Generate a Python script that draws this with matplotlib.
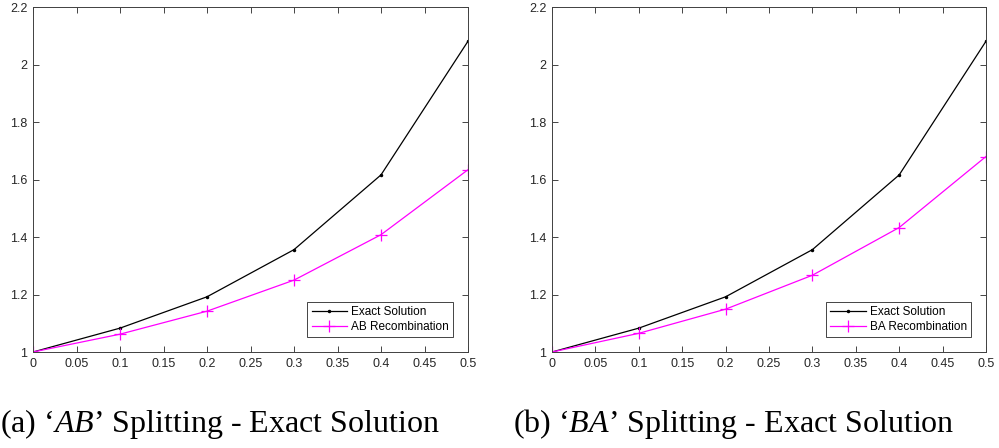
import matplotlib
matplotlib.use("Agg")
import matplotlib.pyplot as plt
import numpy as np

x = [0, 0.1, 0.2, 0.3, 0.4, 0.5]
exact = [1.0, 1.083, 1.192, 1.356, 1.616, 2.081]
ab = [1.0, 1.062, 1.142, 1.250, 1.408, 1.634]
ba = [1.0, 1.065, 1.149, 1.267, 1.433, 1.680]
xticks = [0, 0.05, 0.1, 0.15, 0.2, 0.25, 0.3, 0.35, 0.4, 0.45, 0.5]
xticklabels = ["0", "0.05", "0.1", "0.15", "0.2", "0.25", "0.3", "0.35", "0.4", "0.45", "0.5"]
yticks = [1, 1.2, 1.4, 1.6, 1.8, 2, 2.2]
yticklabels = ["1", "1.2", "1.4", "1.6", "1.8", "2", "2.2"]

panels = [
    (ab, "AB Recombination", r"(a) ‘$\mathit{AB}$’ Splitting - Exact Solution"),
    (ba, "BA Recombination", r"(b) ‘$\mathit{BA}$’ Splitting - Exact Solution"),
]

plt.rcParams['mathtext.fontset'] = 'custom'
plt.rcParams['mathtext.it'] = 'Liberation Serif:italic'
plt.rcParams['mathtext.rm'] = 'Liberation Serif'

fig = plt.figure(figsize=(9.99, 4.48), dpi=100)
W, H = 999, 448
lefts = [33, 552]
rights = [468, 986]
top, bottom = 7, 352
caption_x = [0, 513]

for i, (series, lab, cap) in enumerate(panels):
    aw = rights[i] - lefts[i]
    ah = bottom - top
    ax = fig.add_axes([lefts[i] / W, 1 - bottom / H, aw / W, ah / H])
    ax.plot(x, exact, color='black', lw=0.9, marker='.', ms=3, label='Exact Solution')
    ax.plot(x, series, color='#ff00ff', lw=0.9, marker='+', ms=8, mew=0.9, label=lab)
    ax.set_xlim(0, 0.5)
    ax.set_ylim(1, 2.2)
    ax.set_xticks(xticks)
    ax.set_xticklabels(xticklabels)
    ax.set_yticks(yticks)
    ax.set_yticklabels(yticklabels)
    ax.tick_params(direction='in', top=True, right=True, length=4, width=0.6,
                   labelsize=9, colors='#262626', pad=4)
    for lbl in ax.get_xticklabels() + ax.get_yticklabels():
        lbl.set_fontfamily('Liberation Sans')
    for s in ax.spines.values():
        s.set_linewidth(0.7)
        s.set_color('#404040')
    leg = ax.legend(loc='lower right', prop={'family': 'Liberation Sans', 'size': 8.5},
                    frameon=True, fancybox=False, edgecolor='#262626', framealpha=1,
                    borderpad=0.35, handlelength=3.0, handletextpad=0.35, labelspacing=0.25,
                    borderaxespad=0,
                    bbox_to_anchor=(1 - 15 / aw, 15 / ah))
    leg.get_frame().set_linewidth(0.6)
    fig.text(caption_x[i] / W, 1 - 424 / H, cap, fontsize=23,
             family='Liberation Serif', va='center', ha='left')

fig.savefig('out.png', dpi=100)
